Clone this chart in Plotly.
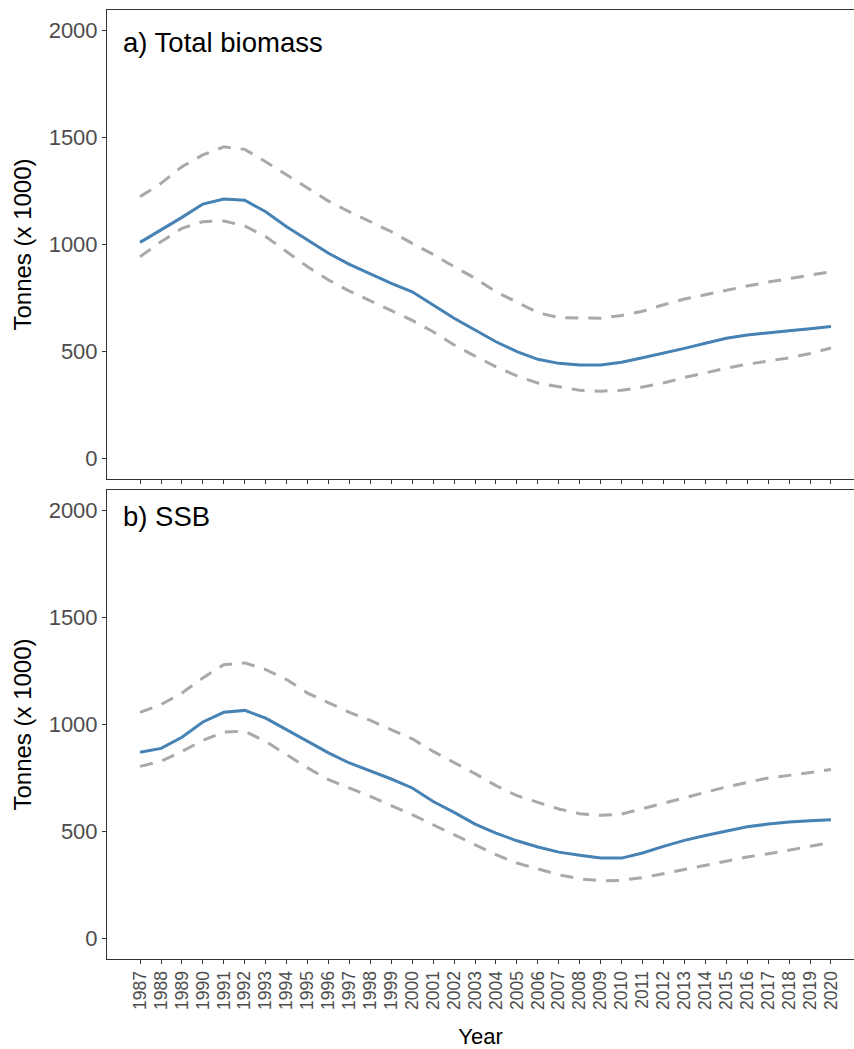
import plotly.graph_objects as go

years = list(range(1987, 2021))

tb_est = [1010, 1068, 1127, 1189, 1213, 1207, 1153, 1083, 1021, 959, 907, 861, 818, 779,
          717, 655, 600, 545, 499, 463, 444, 436, 436, 449, 470, 491, 514, 538, 561, 577,
          588, 597, 606, 616]
tb_upper = [1224, 1286, 1364, 1419, 1457, 1445, 1387, 1325, 1263, 1203, 1153, 1107, 1060, 1005,
            954, 896, 842, 779, 728, 681, 658, 655, 655, 668, 688, 718, 745, 765, 787, 806,
            824, 840, 856, 873]
tb_lower = [943, 1013, 1076, 1107, 1110, 1087, 1037, 966, 896, 834, 782, 736, 690, 645,
            592, 530, 478, 428, 385, 352, 335, 318, 314, 318, 333, 352, 378, 400, 421, 440,
            455, 470, 490, 516]

ssb_est = [870, 888, 940, 1012, 1057, 1066, 1030, 976, 924, 867, 820, 784, 745, 703,
           640, 589, 534, 492, 456, 427, 403, 388, 375, 375, 399, 430, 458, 481, 503, 522,
           534, 544, 550, 555]
ssb_upper = [1057, 1093, 1147, 1218, 1280, 1288, 1257, 1210, 1147, 1101, 1057, 1019, 976, 933,
             874, 823, 770, 714, 667, 636, 605, 583, 575, 581, 607, 633, 658, 682, 708, 729,
             750, 762, 776, 789]
ssb_lower = [804, 828, 874, 926, 965, 968, 921, 859, 797, 742, 703, 664, 620, 578,
             531, 484, 438, 391, 352, 324, 297, 278, 269, 271, 284, 302, 321, 339, 358, 380,
             395, 414, 430, 448]

y_ticks = [0, 500, 1000, 1500, 2000]
panel_labels = ["a) Total biomass", "b) SSB"]

BLUE = "#4682B4"
GREY = "#A9A9A9"
AX = "#333333"
TXT = "#4D4D4D"
FONT = "Liberation Sans, Arial, sans-serif"

fig = go.Figure()

def add_panel(est, up, lo, xa, ya):
    for vals, col, dash in [(up, GREY, "13px,10px"), (lo, GREY, "13px,10px"), (est, BLUE, "solid")]:
        fig.add_trace(go.Scatter(x=years, y=vals, mode="lines", xaxis=xa, yaxis=ya,
                                 line=dict(color=col, width=3, dash=dash),
                                 showlegend=False, hoverinfo="skip"))

add_panel(tb_est, tb_upper, tb_lower, "x", "y")
add_panel(ssb_est, ssb_upper, ssb_lower, "x2", "y2")

W, H = 854, 1049
ml, mr, mt, mb = 107, 0, 10, 90
ph = H - mt - mb

def py(pix):
    return (H - mb - pix) / ph

xrange = [1985.42, 2021.1]
common_x = dict(range=xrange, showgrid=False, zeroline=False, showline=True, mirror=True,
                linecolor=AX, linewidth=1, ticks="outside", ticklen=4, tickcolor=AX,
                tickwidth=1, tickmode="array", tickvals=years, fixedrange=True)
common_y = dict(range=[-97, 2097], showgrid=False, zeroline=False, showline=True, mirror=False,
                linecolor=AX, linewidth=1, ticks="outside", ticklen=4, tickcolor=AX,
                tickwidth=1, tickmode="array", tickvals=y_ticks,
                ticktext=[str(v) for v in y_ticks],
                tickfont=dict(family=FONT, size=22, color=TXT),
                title=dict(text="Tonnes (x 1000)", font=dict(family=FONT, size=24, color="black"),
                           standoff=10))

fig.update_layout(
    width=W, height=H,
    margin=dict(l=ml, r=mr, t=mt, b=mb),
    paper_bgcolor="white", plot_bgcolor="white",
    xaxis=dict(common_x, domain=[0, 1], anchor="y", showticklabels=False),
    yaxis=dict(common_y, domain=[py(479), py(10)], anchor="x"),
    xaxis2=dict(common_x, domain=[0, 1], anchor="y2", showticklabels=True,
                ticktext=[str(y) for y in years], tickangle=-90,
                tickfont=dict(family=FONT, size=17.5, color=TXT),
                title=dict(text="Year", font=dict(family=FONT, size=22, color="black"),
                           standoff=24)),
    yaxis2=dict(common_y, domain=[py(959), py(490)], anchor="x2"),
)

for lab, pix in zip(panel_labels, [42, 516]):
    fig.add_annotation(text=lab, xref="paper", yref="paper", x=(121 - ml) / (W - ml - mr),
                       y=py(pix), xanchor="left", yanchor="middle", showarrow=False,
                       font=dict(family=FONT, size=27.5, color="black"))

fig.write_html("out.html")
